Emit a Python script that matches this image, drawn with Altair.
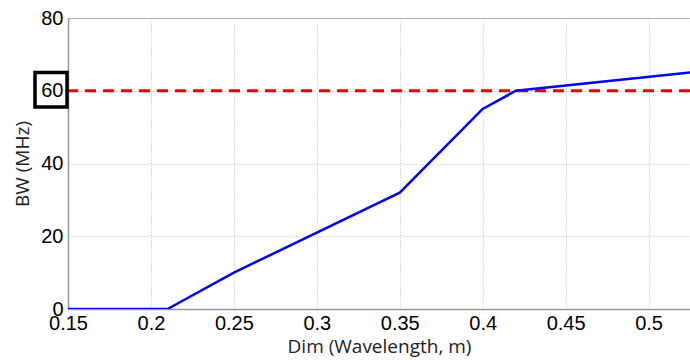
import altair as alt
import pandas as pd

dim = [0.15, 0.21, 0.25, 0.35, 0.40, 0.42, 0.525]
bw = [0, 0, 10, 32, 55, 60, 65]
threshold = [60]
box_y = [55.5]
box_y2 = [65]

df = pd.DataFrame({"dim": dim, "bw": bw})
thr = pd.DataFrame({"t": threshold})
box = pd.DataFrame({"y": box_y, "y2": box_y2})

x_scale = alt.Scale(domain=[0.15, 0.525], nice=False, zero=False)
y_scale = alt.Scale(domain=[0, 80], nice=False)

font = "Liberation Sans"
tfont = "Open Sans"

line = alt.Chart(df).mark_line(color="#0000ff", strokeWidth=2.5, clip=True).encode(
    x=alt.X("dim:Q", scale=x_scale, title="Dim (Wavelength, m)",
            axis=alt.Axis(values=[0.15, 0.2, 0.25, 0.3, 0.35, 0.4, 0.45, 0.5],
                          format="~g", labelFontSize=20, titleFontSize=19,
                          titleFont=tfont, labelFont=font, labelColor="#000",
                          titleColor="#222", titleFontWeight="normal",
                          tickSize=0, labelPadding=4, titlePadding=4,
                          domainColor="#999", domainWidth=1.5,
                          grid=True, gridDash=[1, 2], gridColor="#bbbbbb",
                          labelFlush=False, labelOverlap=False)),
    y=alt.Y("bw:Q", scale=y_scale, title="BW (MHz)",
            axis=alt.Axis(values=[0, 20, 40, 60, 80], labelFontSize=20,
                          titleFontSize=19, titleFont=tfont, labelFont=font,
                          labelColor="#000", titleColor="#222",
                          titleFontWeight="normal", tickSize=0, labelPadding=5,
                          titlePadding=8, domainColor="#999", domainWidth=1.5,
                          grid=True, gridDash=[1, 2], gridColor="#bbbbbb",
                          labelFlush=False, labelOverlap=False)),
)

rule = alt.Chart(thr).mark_rule(color="#ee0000", strokeWidth=3, strokeDash=[11, 7]).encode(
    y=alt.Y("t:Q", scale=y_scale)
)

rect = alt.Chart(box).mark_rect(fill=None, filled=False, stroke="#000", strokeWidth=3.5, clip=False).encode(
    x=alt.value(-33), x2=alt.value(-1),
    y=alt.Y("y:Q", scale=y_scale), y2="y2:Q"
)

chart = (rule + line + rect).properties(
    width=622, height=291,
    autosize=alt.AutoSizeParams(type="none"),
    padding={"left": 68, "top": 18, "right": 0, "bottom": 51},
    background="white",
).configure_view(stroke="#aaaaaa", strokeWidth=1)

chart.save("out.html", embed_options={"renderer": "svg", "actions": False})
